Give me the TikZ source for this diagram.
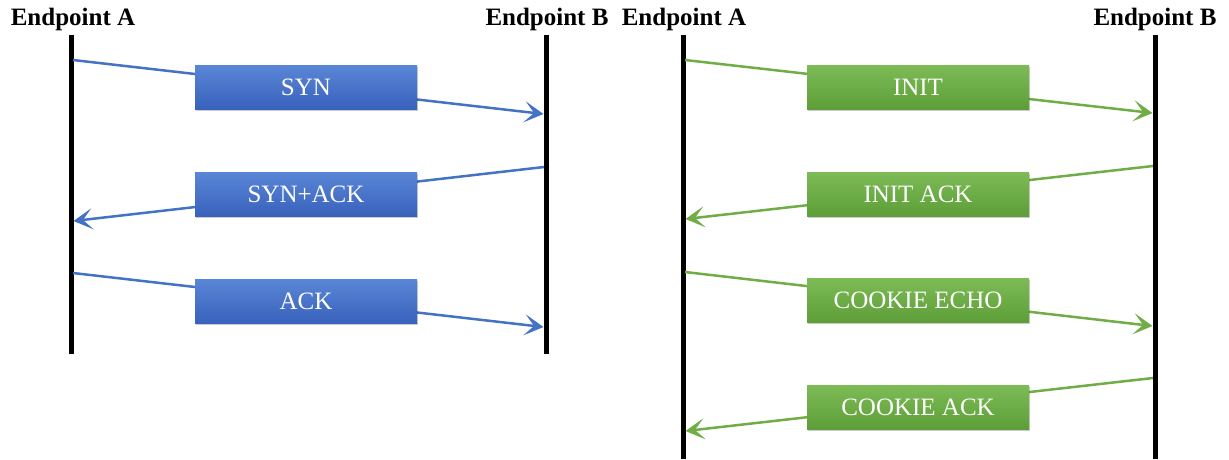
\documentclass[tikz,border=0pt]{standalone}
\usepackage{fontspec}
\setmainfont{Liberation Serif}
\usetikzlibrary{arrows.meta,shadows}
\definecolor{tcpline}{HTML}{4472C4}
\definecolor{tcptop}{HTML}{5A86D6}
\definecolor{tcpbot}{HTML}{3862BC}
\definecolor{sctpline}{HTML}{70AD47}
\definecolor{sctptop}{HTML}{7CBB55}
\definecolor{sctpbot}{HTML}{5E9E38}
\tikzset{
  lifeline/.style={line width=5pt, black},
  endlabel/.style={font=\fontsize{25}{30}\selectfont\bfseries, anchor=base, inner sep=0pt},
  msgbox/.style={minimum width=222pt, minimum height=44pt, inner sep=0pt,
    font=\fontsize{25}{30}\selectfont, text=white,
    drop shadow={shadow xshift=1pt, shadow yshift=-2pt, opacity=0.2, fill=black}},
  tcpbox/.style={msgbox, top color=tcptop, bottom color=tcpbot},
  sctpbox/.style={msgbox, top color=sctptop, bottom color=sctpbot},
  msgarrow/.style={line width=2.5pt,
    -{Stealth[length=19pt, width=21pt, inset=9.5pt]}},
  tcpmsg/.style={msgarrow, tcpline},
  sctpmsg/.style={msgarrow, sctpline},
}
\begin{document}
\begin{tikzpicture}[x=1pt, y=-1pt]
\useasboundingbox (0,0) rectangle (1229,459);

% endpoint labels
\node[endlabel] (lA) at (73,25) {Endpoint A};
\node[endlabel] (lB) at (547,25) {Endpoint B};
\node[endlabel] (rA) at (684,25) {Endpoint A};
\node[endlabel] (rB) at (1155,25) {Endpoint B};

% lifelines
\coordinate (lAtop) at (71,35);  \coordinate (lAbot) at (71,354);
\coordinate (lBtop) at (546,35); \coordinate (lBbot) at (546,354);
\coordinate (rAtop) at (683,35);  \coordinate (rAbot) at (683,459);
\coordinate (rBtop) at (1155,35); \coordinate (rBbot) at (1155,459);
\draw[lifeline] (lAtop) -- (lAbot);
\draw[lifeline] (lBtop) -- (lBbot);
\draw[lifeline] (rAtop) -- (rAbot);
\draw[lifeline] (rBtop) -- (rBbot);

% message end points on the lifelines
\coordinate (s1) at (73,60);    \coordinate (e1) at (543.5,114);
\coordinate (s2) at (544,167);  \coordinate (e2) at (73.5,221);
\coordinate (s3) at (73,273);   \coordinate (e3) at (543.5,327);
\coordinate (s4) at (685,60);   \coordinate (e4) at (1152.5,113);
\coordinate (s5) at (1153,166); \coordinate (e5) at (685.5,219);
\coordinate (s6) at (685,272);  \coordinate (e6) at (1152.5,326);
\coordinate (s7) at (1153,378); \coordinate (e7) at (685.5,431);

% TCP three-way handshake
\draw[tcpmsg] (s1) -- (e1);
\draw[tcpmsg] (s2) -- (e2);
\draw[tcpmsg] (s3) -- (e3);
\node[tcpbox] (syn) at (306,87) {SYN};
\node[tcpbox] (synack) at (306,194) {SYN+ACK};
\node[tcpbox] (ack) at (306,301) {ACK};

% SCTP four-way handshake
\draw[sctpmsg] (s4) -- (e4);
\draw[sctpmsg] (s5) -- (e5);
\draw[sctpmsg] (s6) -- (e6);
\draw[sctpmsg] (s7) -- (e7);
\node[sctpbox] (init) at (918,87) {INIT};
\node[sctpbox] (initack) at (918,194) {INIT ACK};
\node[sctpbox] (echo) at (918,300) {COOKIE ECHO};
\node[sctpbox] (cack) at (918,407) {COOKIE ACK};
\end{tikzpicture}
\end{document}
